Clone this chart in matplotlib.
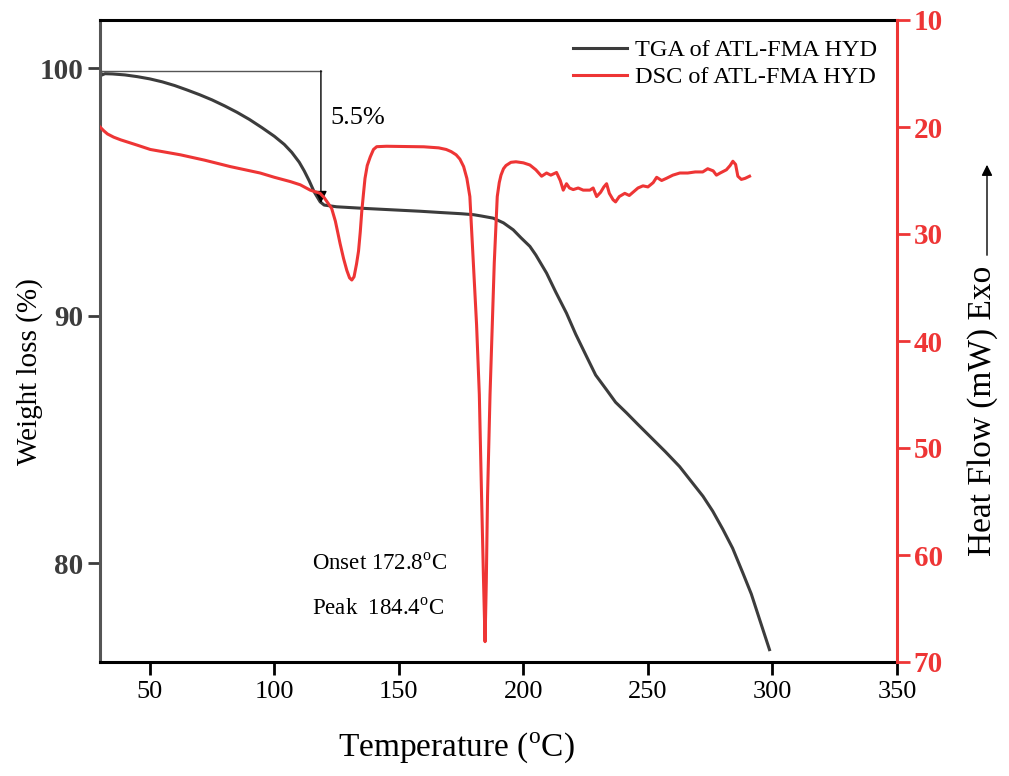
import numpy as np
import matplotlib
matplotlib.use("Agg")
import matplotlib.pyplot as plt

plt.rcParams['font.family'] = ['Liberation Serif', 'DejaVu Serif']
plt.rcParams['mathtext.fontset'] = 'custom'
plt.rcParams['mathtext.rm'] = 'Liberation Serif'

# TGA curve (weight %, left axis)
tga_temp = [30, 30.6, 32, 35, 40, 45, 50, 55, 60, 65, 70, 75, 80, 85, 90, 95, 100,
            104, 107, 110, 112, 114, 116, 118.4, 120, 125, 137, 158.5, 166.5, 175,
            180, 183, 187.9, 192, 195.9, 199, 202.6, 205, 209.3, 213, 217.3, 221,
            225.3, 229, 233.4, 237, 241.4, 246, 252, 257, 262.7, 267, 272.1, 276,
            280.1, 284, 288.1, 291.5, 294.8, 298.8]
tga_weight = [100.0, 99.72, 99.78, 99.77, 99.73, 99.66, 99.57, 99.45, 99.3, 99.12,
              98.93, 98.72, 98.48, 98.22, 97.93, 97.6, 97.25, 96.92, 96.6, 96.2,
              95.85, 95.45, 95.0, 94.6, 94.47, 94.4, 94.33, 94.22, 94.17, 94.12,
              94.08, 94.03, 93.94, 93.75, 93.47, 93.15, 92.8, 92.45, 91.72, 90.95,
              90.1, 89.25, 88.36, 87.6, 87.0, 86.5, 86.07, 85.6, 85.0, 84.5, 83.9,
              83.35, 82.7, 82.1, 81.36, 80.6, 79.6, 78.75, 77.73, 76.5]

# DSC curve (heat flow mW, right axis, inverted)
dsc_temp = [30, 31.5, 33, 35.5, 38.3, 45, 50.2, 62.3, 72, 82.3, 94.3, 100, 106.4,
            110.4, 114.4, 118.4, 120, 121.5, 123, 124.5, 125.5, 126.4, 127.8, 129.1,
            130.2, 131.1, 132, 133, 133.8, 134.5, 135.1, 135.8, 136.4, 137.3, 138.5,
            139.8, 141.1, 145, 160, 166, 169, 171, 173, 174.5, 176, 177.3, 178.5,
            179.9, 181.2, 182.3, 183.2, 184.0, 184.6, 185.1, 185.6, 186.6, 187.5,
            188.3, 189.5, 190.3, 191, 192, 193, 195, 197, 200, 202.6,
            205, 207.3, 209.3, 211, 213.3, 214.8, 216, 217.3, 218.5, 220, 222, 224,
            226.7, 228, 229.4, 231, 232.3, 233.4, 234.5, 236, 237, 238.5, 240.7, 242.5,
            244.5, 246, 248, 250, 252.1, 253.5, 255.5, 257.4, 260, 262.8, 266, 269,
            272, 274, 276.2, 277.5, 279, 281.5, 283, 284.1, 285.2, 286.1, 287.5, 289,
            290.8]
dsc_flow = [20.0, 20.35, 20.65, 20.95, 21.2, 21.7, 22.1, 22.6, 23.1, 23.7, 24.3, 24.7,
            25.1, 25.4, 25.9, 26.2, 26.6, 27.1, 27.6, 28.8, 29.9, 30.9, 32.3, 33.4,
            34.1, 34.3, 34.0, 32.8, 31.6, 29.8, 27.9, 26.2, 24.8, 23.6, 22.8,
            22.1, 21.84, 21.8, 21.85, 21.95, 22.1, 22.3, 22.6, 23.0, 23.7, 24.8, 26.5,
            32.7, 38.5, 45.0, 54.5, 62.5, 68.1, 62.5, 54.5, 45.0, 38.5, 32.7, 26.5,
            25.2, 24.5, 23.9, 23.6, 23.3, 23.25, 23.35, 23.55,
            24.0, 24.6, 24.3, 24.5, 24.25, 25.0, 25.9, 25.3, 25.7, 25.85, 25.7, 25.9,
            25.9, 25.7, 26.5, 26.1, 25.6, 25.3, 26.2, 26.8, 27.0, 26.5, 26.2, 26.4,
            26.0, 25.7, 25.5, 25.6, 25.2, 24.7, 25.0, 24.8, 24.5, 24.3, 24.3, 24.2,
            24.2, 23.9, 24.1, 24.5, 24.3, 24.0, 23.6, 23.2, 23.5, 24.6, 24.9, 24.8,
            24.6]

x_ticks = [50, 100, 150, 200, 250, 300, 350]
left_ticks = [80, 90, 100]
right_ticks = [10, 20, 30, 40, 50, 60, 70]

GRAY = '#3c3c3c'
RED = '#ee3535'

fig = plt.figure(figsize=(10.09, 7.76), dpi=100)
ax = fig.add_axes([100 / 1009, 1 - 662 / 776, 797 / 1009, 642 / 776])
ax2 = ax.twinx()

l1, = ax.plot(tga_temp, tga_weight, color=GRAY, lw=2.2, label='TGA of ATL-FMA HYD')
l2, = ax2.plot(dsc_temp, dsc_flow, color=RED, lw=2.2, label='DSC of ATL-FMA HYD')

ax.set_xlim(30, 350)
ax.set_ylim(76.0, 101.95)
ax2.set_ylim(70, 10)

ax.set_xticks(x_ticks)
ax.set_yticks(left_ticks)
ax2.set_yticks(right_ticks)

ax.tick_params(axis='x', direction='out', length=9, width=2, labelsize=19, pad=5)
ax.tick_params(axis='y', direction='out', length=9, width=2, labelsize=21,
               colors=GRAY, pad=3)
for t in ax.get_yticklabels():
    t.set_fontweight('bold')
ax2.tick_params(axis='y', direction='out', length=9, width=2, labelsize=21,
                colors=RED, pad=3)
for t in ax2.get_yticklabels():
    t.set_fontweight('bold')

for sp in ['top', 'bottom']:
    ax.spines[sp].set_linewidth(2.2)
    ax.spines[sp].set_color('black')
ax.spines['left'].set_linewidth(2.2)
ax.spines['left'].set_color('#555555')
ax2.spines['right'].set_linewidth(2.2)
ax2.spines['right'].set_color(RED)
ax2.spines['left'].set_visible(False)
ax2.spines['top'].set_visible(False)
ax2.spines['bottom'].set_visible(False)

ax.set_xlabel('Temperature ($^{\\mathrm{o}}$C)', fontsize=24, va='center')
ax.xaxis.set_label_coords((456 - 100) / 797, -(748 - 662) / 642)
ax.set_ylabel('Weight loss (%)', fontsize=21, va='center')
ax.yaxis.set_label_coords(-(100 - 30) / 797, (662 - 372) / 642)

# right label with exo arrow
fig.text(983 / 1009, 1 - 411 / 776, 'Heat Flow (mW) Exo', rotation=90,
         fontsize=24, ha='center', va='center')
ax.annotate('', xy=(987 / 1009, 1 - 162 / 776), xytext=(987 / 1009, 1 - 258 / 776),
            xycoords='figure fraction', textcoords='figure fraction',
            arrowprops=dict(arrowstyle='-|>', color='black', lw=1.0,
                            mutation_scale=16))

# weight loss step annotation
step_t = 118.7
ax.plot([30, step_t], [99.9, 99.9], color='#555555', lw=1.0)
ax.annotate('', xy=(step_t, 94.55), xytext=(step_t, 99.9),
            arrowprops=dict(arrowstyle='-|>', color='black', lw=1.0,
                            mutation_scale=18, shrinkA=0, shrinkB=0))
ax.text(122.3, 98.0, '5.5%', fontsize=19, va='center', ha='left')

ax.text(115.2, 79.95, 'Onset 172.8$^{\\mathrm{o}}$C', fontsize=16.5, va='center', ha='left')
ax.text(115.2, 78.14, 'Peak  184.4$^{\\mathrm{o}}$C', fontsize=16.5, va='center', ha='left')

ax2.legend([l1, l2], [l1.get_label(), l2.get_label()], loc='upper right',
           bbox_to_anchor=(1.0, 1.0), frameon=False, fontsize=17.5,
           handlelength=2.2, handletextpad=0.35, labelspacing=0.2, borderpad=0.3)

fig.savefig('out.png', dpi=100)
